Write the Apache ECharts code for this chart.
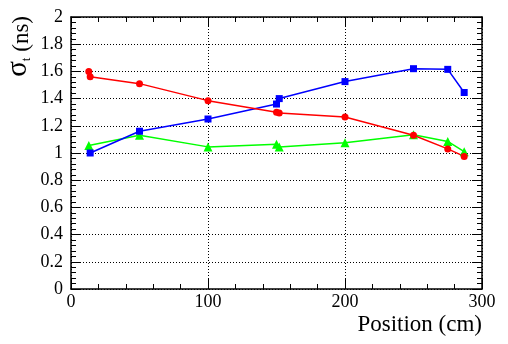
<!DOCTYPE html>
<html>
<head>
<meta charset="utf-8">
<script src="https://cdn.jsdelivr.net/npm/echarts@6/dist/echarts.min.js"></script>
<style>
  html, body { margin: 0; padding: 0; background: #fff; }
  #chart { width: 508px; height: 344px; }
</style>
</head>
<body>
<div id="chart"></div>
<script>
// positions (cm) and sigma_t (ns)
const redX = [13, 14, 50, 100, 150, 152, 200, 250, 275, 287];
const redY = [1.60, 1.56, 1.51, 1.385, 1.30, 1.295, 1.265, 1.13, 1.03, 0.975];
const blueX = [14, 50, 100, 150, 152, 200, 250, 275, 287];
const blueY = [1.00, 1.16, 1.25, 1.36, 1.40, 1.525, 1.62, 1.615, 1.445];
const greenX = [13, 50, 100, 150, 152, 200, 250, 275, 287];
const greenY = [1.055, 1.13, 1.045, 1.065, 1.045, 1.075, 1.135, 1.085, 1.01];

const FONT = 'Liberation Serif';

function zip(xs, ys) {
  return xs.map((x, i) => [x, ys[i]]);
}

const chart = echarts.init(document.getElementById('chart'));

// shared axis look (ROOT style: ticks inside, frame on all sides)
function frameAxis(extra) {
  return Object.assign({
    type: 'value',
    axisLine: { show: true, onZero: false, lineStyle: { color: '#000', width: 1.5 } },
    axisTick: { show: true, inside: true, length: 10, lineStyle: { color: '#000', width: 1 } },
    minorTick: { show: true, splitNumber: 5, length: 5, lineStyle: { color: '#000', width: 1 } },
    splitLine: { show: false }
  }, extra);
}

const option = {
  animation: false,
  grid: { left: 71, top: 17, right: 26, bottom: 55, containLabel: false },
  xAxis: [
    frameAxis({
      position: 'bottom', min: 0, max: 300, interval: 100,
      axisLabel: { show: true, color: '#000', fontFamily: FONT, fontSize: 18, margin: 4 },
      splitLine: { show: true, lineStyle: { color: '#000', type: [1, 2], width: 1 } },
      name: 'Position (cm)',
      nameLocation: 'end',
      nameGap: 0,
      nameTextStyle: { color: '#000', fontFamily: FONT, fontSize: 23, align: 'right', verticalAlign: 'top', padding: [24, 0, 0, 0] }
    }),
    frameAxis({ position: 'top', min: 0, max: 300, interval: 100, axisLabel: { show: false } })
  ],
  yAxis: [
    frameAxis({
      position: 'left', min: 0, max: 2, interval: 0.2,
      axisLabel: { show: true, color: '#000', fontFamily: FONT, fontSize: 18, margin: 8 },
      splitLine: { show: true, lineStyle: { color: '#000', type: [1, 2], width: 1 } }
    }),
    frameAxis({ position: 'right', min: 0, max: 2, interval: 0.2, axisLabel: { show: false } })
  ],
  graphic: [{
    type: 'text',
    left: 4,
    top: 16,
    rotation: Math.PI / 2,
    style: {
      text: '{s|σ}{b|t}{a| (ns)}',
      fill: '#000',
      font: '22px ' + FONT,
      rich: {
        s: { fontFamily: FONT, fontSize: 29, lineHeight: 26, verticalAlign: 'bottom' },
        a: { fontFamily: FONT, fontSize: 23, lineHeight: 26, verticalAlign: 'bottom' },
        b: { fontFamily: FONT, fontSize: 13, lineHeight: 6, verticalAlign: 'bottom' }
      }
    }
  }],
  series: [
    {
      name: 'green', type: 'line', data: zip(greenX, greenY),
      symbol: 'triangle', symbolSize: 9,
      itemStyle: { color: '#00ff00' }, lineStyle: { color: '#00ff00', width: 1.5 }
    },
    {
      name: 'blue', type: 'line', data: zip(blueX, blueY),
      symbol: 'rect', symbolSize: 7,
      itemStyle: { color: '#0000ff' }, lineStyle: { color: '#0000ff', width: 1.5 }
    },
    {
      name: 'red', type: 'line', data: zip(redX, redY),
      symbol: 'circle', symbolSize: 7,
      itemStyle: { color: '#ff0000' }, lineStyle: { color: '#ff0000', width: 1.5 }
    }
  ]
};

chart.setOption(option);
</script>
</body>
</html>
